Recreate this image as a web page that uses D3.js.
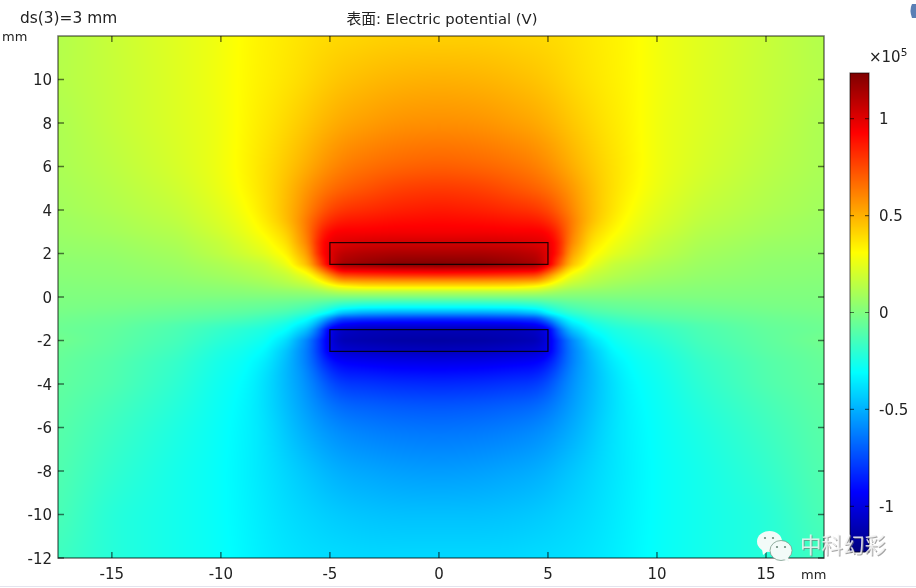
<!DOCTYPE html>
<html>
<head>
<meta charset="utf-8">
<script src="https://cdn.jsdelivr.net/npm/d3@7"></script>
<style>
    html, body { margin: 0; padding: 0; background: #fff; overflow: hidden; }
    #heat { position: absolute; left: 58px; top: 36px; }
    svg { position: absolute; left: 0; top: 0; }
    text { font-family: "DejaVu Sans", sans-serif; fill: #222; }
</style>
</head>
<body>
<canvas id="heat" width="766" height="522"></canvas>
<svg id="disp" width="916" height="588"></svg>
<script>
// potential in 1e5 V. columns are |x| in mm, the plot is mirror symmetric
let xGrid = [0, 2, 3.5, 4.5, 5, 5.5, 6, 7, 8, 9, 10, 12, 15, 17.7];
let yGrid = [12, 10, 8, 6, 5, 4, 3.5, 3, 2.5, 2, 1.5, 1.25, 1, 0.75, 0.5, 0.25, 0,
    -0.25, -0.5, -0.75, -1, -1.25, -1.5, -2, -2.5, -3, -3.5, -4, -5, -6, -8, -10, -12];
let potential = [
    [.42, .42, .41, .40, .40, .39, .38, .36, .34, .32, .275, .235, .175, .12],
    [.50, .49, .47, .45, .44, .42, .40, .37, .345, .32, .28, .23, .17, .125],
    [.58, .57, .54, .52, .50, .47, .45, .40, .36, .325, .27, .225, .165, .105],
    [.70, .68, .65, .62, .59, .55, .51, .44, .38, .33, .27, .21, .145, .10],
    [.79, .77, .72, .69, .66, .62, .57, .46, .38, .32, .26, .19, .13, .09],
    [.87, .85, .82, .80, .76, .70, .61, .47, .37, .29, .235, .165, .115, .08],
    [.91, .90, .88, .87, .83, .76, .64, .46, .35, .27, .22, .15, .10, .07],
    [.95, .95, .94, .94, .92, .82, .64, .42, .32, .25, .20, .13, .09, .065],
    [1.03, 1.03, 1.02, 1.00, .98, .86, .62, .38, .28, .22, .17, .11, .07, .055],
    [1.13, 1.13, 1.11, 1.08, 1.00, .85, .56, .33, .24, .19, .15, .09, .055, .045],
    [1.23, 1.22, 1.18, 1.14, 1.00, .73, .48, .26, .17, .14, .11, .07, .04, .03],
    [1.02, 1.01, .99, .98, .80, .58, .37, .21, .15, .12, .095, .06, .035, .027],
    [.82, .81, .79, .76, .60, .42, .28, .17, .13, .10, .08, .05, .03, .022],
    [.58, .58, .57, .55, .43, .30, .21, .14, .10, .08, .06, .038, .022, .016],
    [.38, .38, .37, .32, .26, .19, .14, .10, .07, .05, .04, .025, .015, .01],
    [.15, .15, .15, .14, .11, .08, .06, .045, .035, .025, .02, .012, .007, .005],
    [0, 0, 0, 0, 0, 0, 0, 0, 0, 0, 0, 0, 0, 0],
    [-.17, -.17, -.16, -.14, -.11, -.09, -.07, -.05, -.04, -.035, -.03, -.02, -.01, -.005],
    [-.33, -.33, -.32, -.28, -.22, -.17, -.13, -.09, -.07, -.06, -.05, -.04, -.02, -.01],
    [-.55, -.55, -.53, -.47, -.34, -.26, -.20, -.14, -.11, -.09, -.08, -.06, -.035, -.02],
    [-.82, -.81, -.79, -.76, -.60, -.42, -.30, -.20, -.16, -.13, -.11, -.08, -.05, -.03],
    [-.98, -.98, -.97, -.92, -.80, -.55, -.38, -.26, -.20, -.17, -.15, -.11, -.06, -.04],
    [-1.1, -1.1, -1.09, -1.06, -.98, -.68, -.47, -.30, -.24, -.21, -.18, -.125, -.07, -.045],
    [-1.15, -1.14, -1.12, -1.1, -1.0, -.80, -.62, -.39, -.28, -.24, -.21, -.14, -.08, -.03],
    [-1.08, -1.07, -1.05, -1.03, -.98, -.80, -.64, -.45, -.32, -.27, -.24, -.16, -.09, -.05],
    [-.98, -.97, -.95, -.93, -.88, -.76, -.63, -.47, -.35, -.29, -.26, -.18, -.105, -.06],
    [-.90, -.89, -.87, -.86, -.80, -.71, -.60, -.48, -.37, -.30, -.27, -.19, -.11, -.065],
    [-.83, -.82, -.80, -.79, -.74, -.66, -.58, -.48, -.38, -.31, -.28, -.20, -.115, -.07],
    [-.72, -.71, -.69, -.68, -.65, -.60, -.55, -.47, -.38, -.32, -.29, -.22, -.14, -.08],
    [-.65, -.64, -.62, -.60, -.58, -.55, -.52, -.45, -.37, -.33, -.295, -.24, -.16, -.09],
    [-.55, -.54, -.52, -.51, -.49, -.47, -.45, -.41, -.37, -.335, -.30, -.26, -.19, -.105],
    [-.46, -.46, -.45, -.44, -.43, -.42, -.41, -.39, -.36, -.33, -.30, -.265, -.22, -.12],
    [-.40, -.40, -.40, -.39, -.39, -.39, -.38, -.37, -.35, -.325, -.295, -.265, -.22, -.15]
];
let plates = [[-5, 5, 1.5, 2.5], [-5, 5, -2.5, -1.5]];
let xTicks = [-15, -10, -5, 0, 5, 10, 15];
let yTicks = [-12, -10, -8, -6, -4, -2, 0, 2, 4, 6, 8, 10];
let barTicks = [-1, -0.5, 0, 0.5, 1];
let colorStops = [-1.235, -0.926, -0.309, 0.309, 0.926, 1.235];
let colorValues = ["#00007f", "#0000ff", "#00ffff", "#ffff00", "#ff0000", "#7f0000"];

let left = 58, right = 824, top_ = 36, bottom = 558;
let x = d3.scaleLinear().domain([-17.47, 17.66]).range([left, right]);
let y = d3.scaleLinear().domain([12, -12]).range([top_, bottom]);
let color = d3.scaleLinear().domain(colorStops).range(colorValues).interpolate(d3.interpolateRgb).clamp(true);
let barY = d3.scaleLinear().domain([-1.235, 1.235]).range([552, 73]);

// fractional grid index from a position in mm
let colIndex = d3.scaleLinear().domain(xGrid).range(d3.range(xGrid.length)).clamp(true);
let rowIndex = d3.scaleLinear().domain(yGrid).range(d3.range(yGrid.length)).clamp(true);
// how far the shading is softened: little near the plates, more in the far field
let softX = d3.scaleLinear().domain([2.5, 5]).range([0.2, 0.7]).clamp(true);
let softY = d3.scaleLinear().domain([3, 6]).range([0.04, 0.35]).clamp(true);

function valueAt(mx, my) {
    let c = colIndex(Math.abs(mx)), r = rowIndex(my);
    let c0 = Math.min(Math.floor(c), xGrid.length - 2), r0 = Math.min(Math.floor(r), yGrid.length - 2);
    let fc = c - c0, fr = r - r0;
    let up = potential[r0][c0] * (1 - fc) + potential[r0][c0 + 1] * fc;
    let low = potential[r0 + 1][c0] * (1 - fc) + potential[r0 + 1][c0 + 1] * fc;
    return up + (low - up) * fr;
}

function softValue(mx, my) {
    let w = softX(Math.abs(my)), h = softY(Math.abs(my));
    let sum = 0;
    for (let i = -2; i <= 2; i++) {
        for (let j = -1; j <= 1; j++) {
            sum += valueAt(mx + i * w / 2, my + j * h);
        }
    }
    return sum / 15;
}

let ctx = document.getElementById("heat").getContext("2d");
let img = ctx.createImageData(right - left, bottom - top_);
for (let py = 0; py < bottom - top_; py++) {
    for (let px = 0; px < right - left; px++) {
        let c = d3.rgb(color(softValue(x.invert(left + px + 0.5), y.invert(top_ + py + 0.5))));
        let i = (py * (right - left) + px) * 4;
        img.data[i] = c.r;
        img.data[i + 1] = c.g;
        img.data[i + 2] = c.b;
        img.data[i + 3] = 255;
    }
}
ctx.putImageData(img, 0, 0);

let svg = d3.select("#disp");

// plates
svg.append("g").selectAll("rect")
    .data(plates)
    .join("rect")
    .attr("x", d => x(d[0]))
    .attr("y", d => y(d[3]))
    .attr("width", d => x(d[1]) - x(d[0]))
    .attr("height", d => y(d[2]) - y(d[3]))
    .attr("fill", "none")
    .attr("stroke", "#000")
    .attr("stroke-opacity", 0.85)
    .attr("stroke-width", 1.2);

// frame and inward ticks, translucent so that they pick up the colour below
let frame = svg.append("g")
    .attr("stroke", "#000")
    .attr("stroke-opacity", 0.55)
    .attr("stroke-width", 1.5)
    .attr("fill", "none");
frame.append("rect").attr("x", left).attr("y", top_).attr("width", right - left).attr("height", bottom - top_);
frame.selectAll(".xt").data(xTicks).join("path")
    .attr("class", "xt")
    .attr("d", d => `M${x(d)},${top_}v6M${x(d)},${bottom}v-6`);
frame.selectAll(".yt").data(yTicks).join("path")
    .attr("class", "yt")
    .attr("d", d => `M${left},${y(d)}h6M${right},${y(d)}h-6`);

svg.append("g").selectAll("text").data(xTicks).join("text")
    .attr("x", d => x(d))
    .attr("y", 579)
    .attr("text-anchor", "middle")
    .attr("font-size", 15)
    .text(d => d);
svg.append("g").selectAll("text").data(yTicks).join("text")
    .attr("x", 52)
    .attr("y", d => y(d) + 5.5)
    .attr("text-anchor", "end")
    .attr("font-size", 15)
    .text(d => d);

svg.append("text").attr("x", 20).attr("y", 23).attr("font-size", 15.4).text("ds(3)=3 mm");
svg.append("text").attr("x", 2).attr("y", 41).attr("font-size", 13).text("mm");
svg.append("text").attr("x", 801).attr("y", 579).attr("font-size", 13).text("mm");
svg.append("text").attr("x", 442).attr("y", 24).attr("text-anchor", "middle").attr("font-size", 14.8)
    .style("font-family", "'DejaVu Sans', 'Noto Sans CJK SC', sans-serif")
    .text("表面: Electric potential (V)");

// colour bar
let barCells = d3.range(73, 552);
svg.append("g").selectAll("rect").data(barCells).join("rect")
    .attr("x", 850)
    .attr("y", d => d)
    .attr("width", 19)
    .attr("height", 1.2)
    .attr("fill", d => color(barY.invert(d + 0.5)));
let barFrame = svg.append("g")
    .attr("stroke", "#000")
    .attr("stroke-opacity", 0.55)
    .attr("stroke-width", 1.2)
    .attr("fill", "none");
barFrame.append("rect").attr("x", 850).attr("y", 73).attr("width", 19).attr("height", 479);
barFrame.selectAll("path").data(barTicks).join("path")
    .attr("d", d => `M850,${barY(d)}h4M869,${barY(d)}h-4`);
svg.append("g").selectAll("text").data(barTicks).join("text")
    .attr("x", 879)
    .attr("y", d => barY(d) + 5.5)
    .attr("font-size", 15)
    .text(d => d);
let power = svg.append("text").attr("x", 869).attr("y", 62).attr("font-size", 15);
power.append("tspan").text("×10");
power.append("tspan").attr("dy", -6).attr("font-size", 10.5).text("5");

// page edge and watermark
svg.append("line").attr("x1", 0).attr("x2", 916).attr("y1", 586.5).attr("y2", 586.5).attr("stroke", "#e4e4ee");
svg.append("path").attr("d", "M912,4q-3,6,0,14h4v-14z").attr("fill", "#5b7fb5");

let mark = svg.append("g").attr("fill", "#f2fbf8");
mark.append("ellipse").attr("cx", 769.5).attr("cy", 541.5).attr("rx", 12.5).attr("ry", 10.5);
mark.append("path").attr("d", "M762,549l1,6l5,-4z");
mark.append("ellipse").attr("cx", 781).attr("cy", 550.5).attr("rx", 11).attr("ry", 10).attr("stroke", "#7a9a8a").attr("stroke-width", 0.8);
mark.append("path").attr("d", "M784,559l5,3l-1,-5z");
mark.selectAll("circle").data([[765, 538], [773, 538], [777, 547], [785, 547]]).join("circle")
    .attr("cx", d => d[0]).attr("cy", d => d[1]).attr("r", 1.1).attr("fill", "#6a8a7a");
svg.append("text").attr("x", 801).attr("y", 554).attr("font-size", 21.5)
    .style("font-family", "'Noto Sans CJK SC', sans-serif")
    .style("fill", "#777").attr("opacity", 0.65).text("中科幻彩");
svg.append("text").attr("x", 800).attr("y", 553).attr("font-size", 21.5)
    .style("font-family", "'Noto Sans CJK SC', sans-serif")
    .style("fill", "#f4f4f4").attr("opacity", 0.85).text("中科幻彩");
</script>
</body>
</html>
